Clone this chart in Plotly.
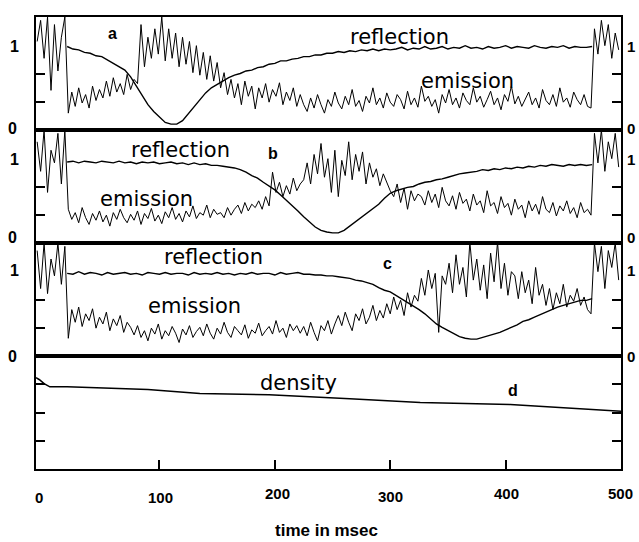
import plotly.graph_objects as go
from plotly.subplots import make_subplots

# ---------------- data ----------------
# time grids (msec)
t_em = list(range(-6, 499, 3))      # emission traces (incl. noisy start/end)
t_ref = list(range(20, 476, 5))     # reflection traces
t_den = [-7, -4, 0, 5, 20, 90, 135, 195, 265, 326, 404, 456, 482, 500]

emission_a = [
    1.05, 1.30, 0.85, 1.34, 0.47, 1.25, 0.70, 1.10, 1.34,
    0.20, 0.45, 0.28, 0.50, 0.32, 0.42, 0.26, 0.52, 0.35, 0.48,
    0.38, 0.58, 0.40, 0.62, 0.45, 0.55, 0.42, 0.66, 0.48, 0.60,
    0.55, 1.25, 0.75, 1.10, 0.85, 1.20, 0.90, 1.34, 0.82, 1.20, 0.85, 1.15,
    0.75, 1.10, 0.78, 1.05, 0.68, 1.00, 0.65, 0.92, 0.60, 0.88, 0.58, 0.80,
    0.50, 0.68, 0.42, 0.60, 0.38, 0.55, 0.30, 0.58, 0.40, 0.52, 0.25, 0.50,
    0.38, 0.55, 0.33, 0.48, 0.40, 0.56, 0.30, 0.45, 0.35, 0.50, 0.28, 0.42,
    0.30, 0.22, 0.38, 0.26, 0.42, 0.30, 0.20, 0.36, 0.28, 0.45, 0.32, 0.25, 0.40, 0.30, 0.48, 0.28, 0.35, 0.22, 0.40, 0.32,
    0.50, 0.30, 0.38, 0.26, 0.44, 0.33, 0.28, 0.42, 0.36, 0.25, 0.46, 0.30, 0.38, 0.27, 0.52, 0.34, 0.40, 0.28, 0.36, 0.20,
    0.42, 0.32, 0.48, 0.30, 0.38, 0.26, 0.44, 0.35, 0.30, 0.50, 0.33, 0.40, 0.27, 0.36, 0.46, 0.30, 0.38, 0.24, 0.42, 0.34,
    0.52, 0.31, 0.40, 0.28, 0.36, 0.45, 0.30, 0.38, 0.26, 0.48, 0.35, 0.30, 0.42, 0.28, 0.50, 0.33, 0.38, 0.27, 0.45, 0.36,
    0.30, 0.42, 0.28, 0.26,
    1.20, 0.90, 1.30, 1.00, 1.25, 0.85, 1.15, 0.95,
]

reflection_a = [
    0.99, 0.96, 0.95, 0.92, 0.91, 0.88, 0.87, 0.83, 0.80, 0.75,
    0.71, 0.63, 0.52, 0.40, 0.30, 0.22, 0.15, 0.09, 0.07, 0.07,
    0.11, 0.19, 0.28, 0.36, 0.44, 0.50, 0.54, 0.58, 0.62, 0.65,
    0.67, 0.70, 0.71, 0.74, 0.75, 0.78, 0.79, 0.82, 0.82, 0.84,
    0.85, 0.87, 0.87, 0.89, 0.89, 0.91, 0.91, 0.93, 0.92, 0.94,
    0.93, 0.95, 0.94, 0.96, 0.94, 0.96, 0.95, 0.96, 0.98, 0.95,
    0.97, 0.96, 0.99, 0.96, 0.97, 0.99, 0.96, 0.98, 0.97, 1.00,
    0.97, 0.98, 0.96, 0.99, 0.97, 0.98, 1.00, 0.97, 0.99, 0.98,
    0.97, 1.00, 0.98, 0.97, 0.99, 0.98, 1.00, 0.97, 0.99, 0.98,
    0.98, 0.99,
]

emission_b = [
    1.20, 0.85, 1.34, 0.60, 1.10, 0.95, 1.30, 0.70, 1.34,
    0.40, 0.28, 0.36, 0.24, 0.42, 0.30, 0.22, 0.35, 0.27, 0.38, 0.25, 0.33, 0.20, 0.36, 0.28, 0.40, 0.30, 0.24, 0.34, 0.27, 0.38, 0.22,
    0.35, 0.29, 0.41, 0.26, 0.33, 0.23, 0.37, 0.30, 0.42, 0.28, 0.35, 0.25, 0.38, 0.31, 0.44, 0.29, 0.36, 0.33, 0.45, 0.30, 0.40, 0.34,
    0.36, 0.30, 0.42, 0.33, 0.40, 0.45, 0.35, 0.48, 0.38, 0.46, 0.42, 0.50,
    0.40, 0.55, 0.44, 0.84, 0.60, 0.72, 0.55, 0.68, 0.58, 0.77, 0.62, 0.70,
    0.75, 0.95, 0.70, 1.05, 0.82, 1.18, 0.78, 1.00, 0.60, 1.10, 0.55, 0.98, 0.80,
    1.20, 0.75, 1.05, 0.85, 1.08, 0.70, 0.95, 0.78, 0.88, 0.68, 0.82, 0.72,
    0.62, 0.55, 0.70, 0.48, 0.65, 0.40, 0.62, 0.50, 0.58,
    0.55, 0.45, 0.62, 0.48, 0.58, 0.42, 0.66, 0.50, 0.44, 0.56, 0.40, 0.60, 0.47, 0.52, 0.38, 0.58, 0.45, 0.50, 0.36, 0.62,
    0.44, 0.48, 0.35, 0.55, 0.42, 0.47, 0.33, 0.52, 0.40, 0.45, 0.30, 0.50, 0.38, 0.46, 0.34, 0.55, 0.40, 0.36, 0.48, 0.32,
    0.44, 0.38, 0.50, 0.35, 0.42, 0.30, 0.48, 0.36, 0.40, 0.33,
    1.30, 0.95, 1.34, 0.85, 1.20, 1.00, 1.30, 0.90,
]

reflection_b = [
    0.96, 0.97, 0.95, 0.97, 0.96, 0.95, 0.97, 0.96, 0.95, 0.97,
    0.95, 0.96, 0.94, 0.96, 0.95, 0.96, 0.94, 0.95, 0.96, 0.94,
    0.95, 0.93, 0.95, 0.93, 0.94, 0.92, 0.92, 0.91, 0.90, 0.89,
    0.87, 0.84, 0.80, 0.77, 0.72, 0.68, 0.63, 0.57, 0.51, 0.45,
    0.38, 0.31, 0.25, 0.19, 0.15, 0.13, 0.12, 0.12, 0.15, 0.20,
    0.26, 0.31, 0.36, 0.41, 0.46, 0.53, 0.59, 0.62, 0.64, 0.66,
    0.67, 0.70, 0.72, 0.73, 0.75, 0.76, 0.78, 0.80, 0.82, 0.83,
    0.84, 0.85, 0.87, 0.86, 0.88, 0.87, 0.89, 0.88, 0.90, 0.89,
    0.91, 0.90, 0.92, 0.91, 0.93, 0.92, 0.91, 0.93, 0.92, 0.93,
    0.92, 0.93,
]

emission_c = [
    1.25, 0.80, 1.34, 0.74, 1.15, 0.95, 1.34, 0.85, 1.30,
    0.21, 0.55, 0.40, 0.58, 0.35, 0.50, 0.42, 0.56, 0.33, 0.46, 0.38, 0.52, 0.30, 0.44, 0.36, 0.48, 0.28, 0.40, 0.34,
    0.25, 0.36, 0.22, 0.30, 0.18, 0.33, 0.26, 0.38, 0.20, 0.30, 0.24, 0.35, 0.27, 0.16, 0.32, 0.25, 0.36, 0.22, 0.29, 0.34,
    0.24, 0.38, 0.27, 0.20, 0.33, 0.26, 0.40, 0.28, 0.22, 0.35, 0.30, 0.25, 0.37, 0.21, 0.31, 0.27, 0.39, 0.24, 0.30, 0.35,
    0.26, 0.42, 0.28, 0.33, 0.22, 0.38, 0.30, 0.36, 0.27,
    0.35, 0.24, 0.40, 0.28, 0.18, 0.36, 0.30, 0.42, 0.26, 0.38,
    0.48, 0.36, 0.52, 0.40, 0.30, 0.50, 0.42, 0.56, 0.38, 0.46, 0.60, 0.42, 0.54, 0.45, 0.62,
    0.50, 0.70, 0.55, 0.66, 0.48, 0.75, 0.58, 0.72,
    0.65, 0.92, 0.72, 1.02, 0.80, 0.98, 0.28, 0.95, 0.85,
    1.10, 0.75, 1.20, 0.85, 1.05, 0.70, 1.35, 0.90, 1.15, 0.78, 1.08, 0.68, 1.22, 0.88, 1.35, 0.80, 1.10, 0.72, 1.00,
    0.95, 0.68, 1.00, 0.75, 0.90, 0.62, 1.05, 0.72, 0.85, 0.60,
    0.80, 0.55, 0.75, 0.62, 0.85, 0.58, 0.72, 0.65, 0.80, 0.60, 0.70, 0.55, 0.50,
    1.34, 1.00, 1.30, 0.80, 1.25, 1.05, 1.34, 0.90,
]

reflection_c = [
    0.98, 0.97, 1.00, 0.97, 0.99, 0.98, 0.96, 0.99, 0.97, 0.98,
    0.99, 0.97, 0.98, 0.96, 0.99, 0.98, 0.97, 0.99, 0.97, 0.98,
    0.98, 0.96, 0.99, 0.97, 0.98, 0.97, 0.99, 0.97, 0.98, 0.96,
    0.98, 0.97, 0.99, 0.97, 0.98, 0.98, 0.96, 0.99, 0.97, 0.98,
    0.99, 0.97, 0.97, 0.96, 0.96, 0.95, 0.95, 0.94, 0.93, 0.92,
    0.90, 0.89, 0.87, 0.85, 0.81, 0.78, 0.76, 0.72, 0.68, 0.64,
    0.60, 0.55, 0.50, 0.44, 0.38, 0.34, 0.30, 0.26, 0.23, 0.21,
    0.20, 0.20, 0.22, 0.24, 0.26, 0.28, 0.31, 0.34, 0.37, 0.41,
    0.43, 0.46, 0.49, 0.52, 0.55, 0.58, 0.60, 0.62, 0.64, 0.66,
    0.66, 0.68,
]

density = [3.23, 3.16, 3.02, 2.91, 2.91, 2.81, 2.67, 2.63, 2.49, 2.35, 2.28, 2.14, 2.07, 2.04]

x_tick_labels = ["0", "100", "200", "300", "400", "500"]
panel_letters = ["a", "b", "c", "d"]

for arr in (emission_a, emission_b, emission_c):
    assert len(arr) == len(t_em), len(arr)
for arr in (reflection_a, reflection_b, reflection_c):
    assert len(arr) == len(t_ref), len(arr)

# ---------------- figure ----------------
W, H = 639, 542
L, R, T, B = 36, 18, 17, 73
PW, PH = W - L - R, H - T - B


def P(px, py):
    """pixel position -> paper coordinates"""
    return (px - L) / PW, (H - B - py) / PH


fig = make_subplots(rows=4, cols=1, shared_xaxes=True, vertical_spacing=0)

for row, (em, rf) in enumerate([(emission_a, reflection_a),
                                 (emission_b, reflection_b),
                                 (emission_c, reflection_c)], start=1):
    fig.add_trace(go.Scatter(x=t_em, y=em, mode="lines",
                             line=dict(color="black", width=1.0)), row=row, col=1)
    fig.add_trace(go.Scatter(x=t_ref, y=rf, mode="lines",
                             line=dict(color="black", width=1.4)), row=row, col=1)

fig.add_trace(go.Scatter(x=t_den, y=density, mode="lines",
                         line=dict(color="black", width=1.5)), row=4, col=1)

axis_common = dict(showline=True, linecolor="black", linewidth=1.5, mirror=True,
                   showgrid=False, zeroline=False)
for i in range(1, 5):
    xa = dict(axis_common, range=[-7, 500], showticklabels=False, ticks="")
    if i == 4:
        xa.update(ticks="inside", tickvals=[100, 200, 300, 400], ticklen=9,
                  tickwidth=1.5, tickcolor="black")
    fig.update_layout(**{f"xaxis{i}": xa})
    ya = dict(axis_common, showticklabels=False, ticks="inside", ticklen=9,
              tickwidth=1.5, tickcolor="black", mirror="ticks")
    if i < 4:
        ya.update(range=[0, 1.34], tickvals=[1 / 3, 2 / 3])
    else:
        ya.update(range=[0, 4], tickvals=[1, 2, 3])
    fig.update_layout(**{f"yaxis{i}": ya})

ann = []


def add_text(text, px, py, size, family="Liberation Sans", bold=True):
    x, y = P(px, py)
    ann.append(dict(text=f"<b>{text}</b>" if bold else text, x=x, y=y,
                    xref="paper", yref="paper", showarrow=False,
                    xanchor="center", yanchor="middle",
                    font=dict(family=family, size=size, color="black")))


# left/right 0 and 1 labels
for y1, y0 in [(46, 128), (159, 237), (270, 356)]:
    add_text("1", 14, y1, 16)
    add_text("0", 12, y0, 16)
    add_text("1", 631, y1, 15)
    add_text("0", 631, y0, 15)

# panel letters
for letter, (px, py) in zip(panel_letters, [(112, 33), (273, 153), (387, 263), (513, 390)]):
    add_text(letter, px, py, 16)

# curve labels
for txt, px, py in [("reflection", 399, 37), ("emission", 467, 81),
                    ("reflection", 180, 150), ("emission", 146, 199),
                    ("reflection", 214, 257), ("emission", 194, 306),
                    ("density", 298, 383)]:
    add_text(txt, px, py, 21, family="DejaVu Sans", bold=False)

# x tick labels
for lab, px, py in zip(x_tick_labels, [39, 160, 277, 390, 506, 620],
                       [497, 498, 494, 496, 494, 494]):
    add_text(lab, px, py, 15)

add_text("time in msec", 326, 530, 17)

fig.update_layout(width=W, height=H, margin=dict(l=L, r=R, t=T, b=B),
                  paper_bgcolor="white", plot_bgcolor="white",
                  showlegend=False, annotations=ann)

fig.write_html("out.html")
